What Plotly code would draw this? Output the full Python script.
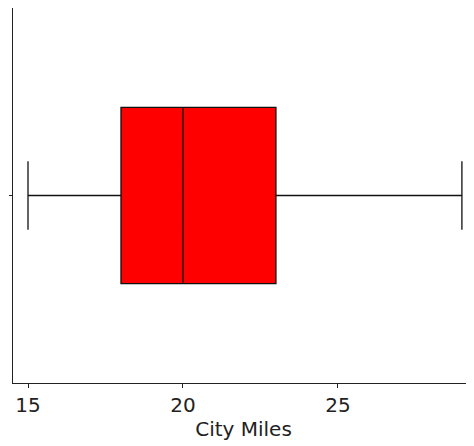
import plotly.graph_objects as go

lowerfence = [15]
q1 = [18]
median = [20]
q3 = [23]
upperfence = [29]
tick_vals = [15, 20, 25]

fig = go.Figure()
fig.add_trace(go.Box(
    y=[0], lowerfence=lowerfence, q1=q1, median=median, q3=q3, upperfence=upperfence,
    orientation="h", fillcolor="#ff0000", line=dict(color="#111111", width=1.3),
    width=0.47, whiskerwidth=0.39, boxpoints=False, showlegend=False, hoverinfo="skip",
))
# page body has an 8px default margin, so margins are offset accordingly
fig.update_layout(
    width=474, height=446,
    margin=dict(l=5, r=8, t=0, b=71),
    paper_bgcolor="white", plot_bgcolor="white",
    font=dict(family="DejaVu Sans, Verdana, sans-serif", size=20, color="#222222"),
    xaxis=dict(range=[14.516, 29.39], tickvals=tick_vals, ticks="outside", ticklen=4,
               tickcolor="#222222", showline=True, linecolor="#222222", linewidth=1.3,
               tickfont=dict(size=20), automargin=False,
               showgrid=False, zeroline=False,
               title=dict(text="City Miles", standoff=2, font=dict(size=20))),
    yaxis=dict(range=[-0.5, 0.5], tickvals=[0], ticktext=[""], ticks="outside", ticklen=3,
               tickcolor="#222222", showline=True, linecolor="#222222", linewidth=1.3,
               automargin=False, showgrid=False, zeroline=False),
)
fig.write_html("out.html")
